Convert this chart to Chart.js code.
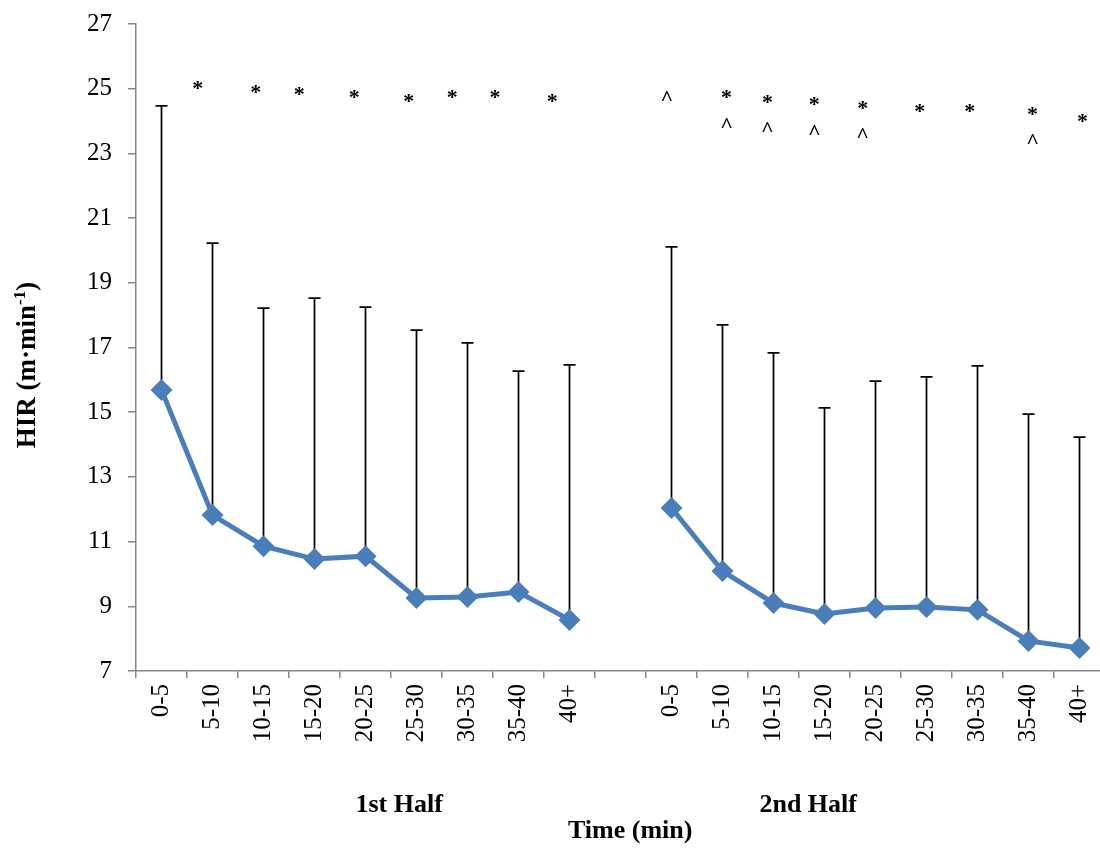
<!DOCTYPE html>
<html>
<head>
<meta charset="utf-8">
<title>HIR by match period</title>
<script src="https://cdn.jsdelivr.net/npm/chart.js@4/dist/chart.umd.min.js"></script>
<style>
  html, body { margin: 0; padding: 0; background: #ffffff; overflow: hidden; }
  #wrap { width: 1116px; height: 848px; }
</style>
</head>
<body>
<div id="wrap"><canvas id="chart" width="1116" height="848"></canvas></div>
<script>
// Five-minute periods of each half; the empty slot separates the two halves.
const categories = ['0-5', '5-10', '10-15', '15-20', '20-25', '25-30', '30-35', '35-40', '40+', '',
                    '0-5', '5-10', '10-15', '15-20', '20-25', '25-30', '30-35', '35-40', '40+'];

// Mean high-intensity running (m·min-1) and its standard deviation
const hirMean = [15.69, 11.82, 10.86, 10.46, 10.55, 9.26, 9.29, 9.44, 8.58, null,
                 12.04, 10.09, 9.10, 8.76, 8.95, 8.98, 8.89, 7.93, 7.71];
const hirSD   = [8.78, 8.41, 7.36, 8.07, 7.70, 8.28, 7.85, 6.83, 7.88, null,
                 8.07, 7.61, 7.73, 6.37, 7.01, 7.11, 7.54, 7.01, 6.52];

// Significance markers: position along the category axis and height in HIR units
const starX  = [0.71, 1.85, 2.70, 3.78, 4.85, 5.70, 6.54, 7.66,
                11.08, 11.88, 12.80, 13.75, 14.87, 15.85, 17.08, 18.06];
const starY  = [25.09, 24.99, 24.91, 24.83, 24.70, 24.83, 24.83, 24.70,
                24.83, 24.68, 24.60, 24.49, 24.39, 24.39, 24.29, 24.09];
const caretX = [9.91, 11.08, 11.88, 12.80, 13.75, 17.08];
const caretY = [24.77, 23.95, 23.83, 23.72, 23.64, 23.44];

// Group labels under the axis
const halfLabels = ['1st Half', '2nd Half'];
const halfLabelX = [4.66, 12.68];

const yTicks = { min: 7, max: 27, step: 2 };

const SERIF = "'Liberation Serif', 'Times New Roman', serif";
const AXIS_GREY = '#868686';
const LINE_BLUE = '#4A7EBB';

const errorBars = {
  id: 'errorBars',
  beforeDatasetsDraw(chart) {
    const { ctx, scales: { x, y } } = chart;
    ctx.save();
    ctx.strokeStyle = '#000000';
    ctx.lineWidth = 1.75;
    hirMean.forEach((m, i) => {
      if (m === null) return;
      const px = x.getPixelForValue(i);
      const y0 = y.getPixelForValue(m);
      const y1 = y.getPixelForValue(m + hirSD[i]);
      ctx.beginPath();
      ctx.moveTo(px, y0);
      ctx.lineTo(px, y1);
      ctx.moveTo(px - 6, y1);
      ctx.lineTo(px + 6, y1);
      ctx.stroke();
    });
    ctx.restore();
  }
};

function drawCentredGlyph(ctx, glyph, cx, cy) {
  const m = ctx.measureText(glyph);
  const asc = m.actualBoundingBoxAscent, desc = m.actualBoundingBoxDescent;
  ctx.fillText(glyph, cx, cy + (asc - desc) / 2);
}

const labelsPlugin = {
  id: 'labelsPlugin',
  afterDraw(chart) {
    const { ctx, scales: { x, y } } = chart;
    ctx.save();
    ctx.fillStyle = '#000000';
    ctx.textAlign = 'center';
    ctx.textBaseline = 'alphabetic';

    // significance markers
    ctx.font = `bold 22px ${SERIF}`;
    starX.forEach((v, i) => drawCentredGlyph(ctx, '*', x.getPixelForValue(v), y.getPixelForValue(starY[i])));
    caretX.forEach((v, i) => drawCentredGlyph(ctx, '^', x.getPixelForValue(v), y.getPixelForValue(caretY[i])));

    // half labels and axis title
    ctx.font = `bold 26px ${SERIF}`;
    ctx.textBaseline = 'middle';
    halfLabels.forEach((t, i) => ctx.fillText(t, x.getPixelForValue(halfLabelX[i]), 805));
    ctx.fillText('Time (min)', x.getPixelForValue(9.19), 831);

    // y-axis title with superscript
    const main = 'HIR (m·min', sup = '-1', tail = ')';
    const mainFont = `bold 27px ${SERIF}`, supFont = `bold 17px ${SERIF}`;
    ctx.font = mainFont; const wMain = ctx.measureText(main).width, wTail = ctx.measureText(tail).width;
    ctx.font = supFont; const wSup = ctx.measureText(sup).width;
    const total = wMain + wSup + wTail;
    ctx.translate(26, 365);
    ctx.rotate(-Math.PI / 2);
    ctx.textAlign = 'left';
    ctx.textBaseline = 'alphabetic';
    let sx = -total / 2;
    const base = 9;
    ctx.font = mainFont; ctx.fillText(main, sx, base); sx += wMain;
    ctx.font = supFont; ctx.fillText(sup, sx, base - 10); sx += wSup;
    ctx.font = mainFont; ctx.fillText(tail, sx, base);
    ctx.restore();
  }
};

new Chart(document.getElementById('chart'), {
  type: 'line',
  data: {
    labels: categories,
    datasets: [{
      label: 'HIR',
      data: hirMean,
      borderColor: LINE_BLUE,
      borderWidth: 5,
      backgroundColor: LINE_BLUE,
      pointStyle: 'rectRot',
      pointRadius: 11,
      pointHoverRadius: 11,
      pointBackgroundColor: LINE_BLUE,
      pointBorderColor: LINE_BLUE,
      pointBorderWidth: 0,
      tension: 0,
      spanGaps: false
    }]
  },
  options: {
    responsive: false,
    animation: false,
    events: [],
    layout: { padding: { top: 24, right: 1, bottom: 0, left: 0 } },
    plugins: { legend: { display: false }, tooltip: { enabled: false } },
    scales: {
      x: {
        type: 'category',
        offset: true,
        grid: { offset: true, drawOnChartArea: false, drawTicks: true, tickLength: 7, color: AXIS_GREY, lineWidth: 1.5 },
        border: { color: AXIS_GREY, width: 1.5 },
        ticks: {
          autoSkip: false, minRotation: 90, maxRotation: 90, padding: 6,
          color: '#000000', font: { family: SERIF, size: 25 }
        },
        afterFit(s) { s.height = 177; s.paddingLeft = 0; s.paddingRight = 0; }
      },
      y: {
        min: yTicks.min, max: yTicks.max,
        grid: { drawOnChartArea: false, drawTicks: true, tickLength: 8, color: AXIS_GREY, lineWidth: 1.5 },
        border: { color: AXIS_GREY, width: 1.5 },
        ticks: {
          stepSize: yTicks.step, padding: 16,
          color: '#000000', font: { family: SERIF, size: 25 }
        },
        afterFit(s) { s.width = 136; s.paddingTop = 0; s.paddingBottom = 0; }
      }
    }
  },
  plugins: [errorBars, labelsPlugin]
});
</script>
</body>
</html>
